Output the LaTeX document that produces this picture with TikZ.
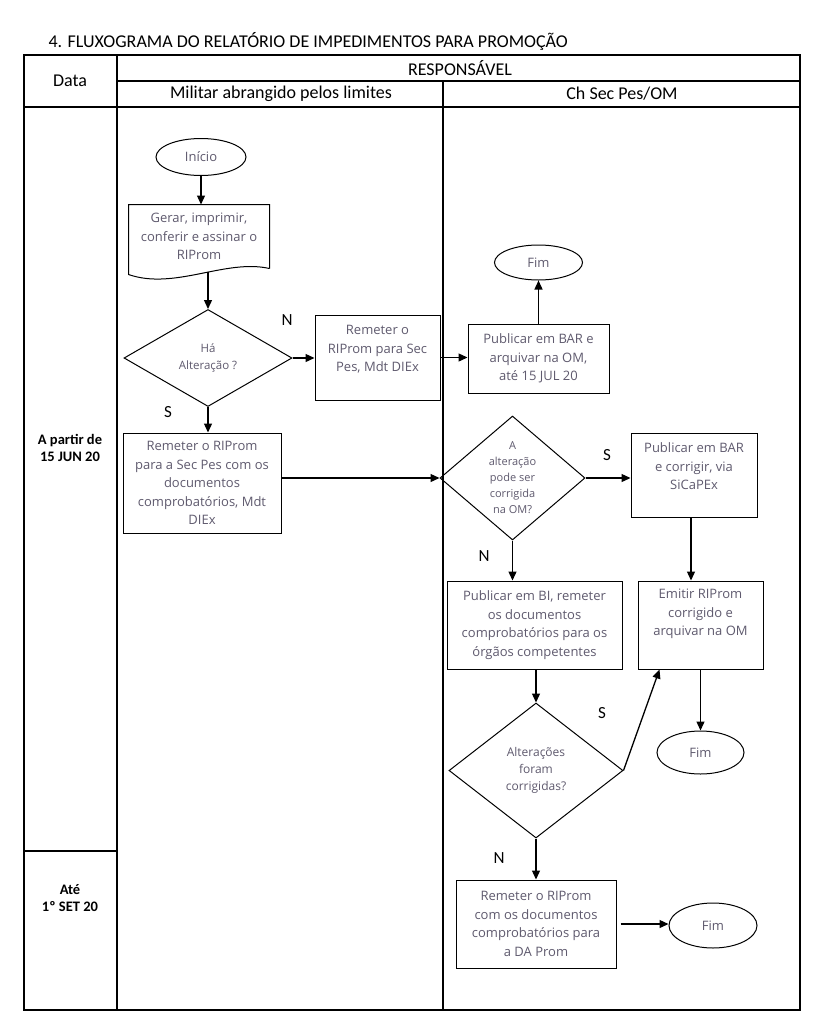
\documentclass[tikz,border=0pt]{standalone}
\usepackage{fontspec}
\setmainfont{Carlito}
\newfontfamily\boxfont{Open Sans}
\usetikzlibrary{positioning,arrows.meta,calc,shapes.geometric}
\definecolor{txtgray}{HTML}{5F5A6E}

\begin{document}
\begin{tikzpicture}[
  x=1pt, y=-1pt,
  font=\fontsize{18}{21}\selectfont,
  grid/.style={line width=1.2pt},
  hdr/.style={font=\fontsize{18}{21}\selectfont},
  datum/.style={align=center, font=\bfseries\fontsize{14.5}{16.5}\selectfont},
  proc/.style={draw, line width=1pt, align=center, inner sep=2pt, text=txtgray,
    font=\boxfont\fontsize{13}{18.5}\selectfont},
  term/.style={draw, line width=1pt, ellipse, inner sep=0pt, text=txtgray,
    font=\boxfont\fontsize{13}{18.5}\selectfont},
  dec/.style={draw, line width=1pt, diamond, align=center, inner sep=0pt, text=txtgray},
  arr/.style={-{Triangle[length=9pt,width=8pt]}, line width=1.3pt},
  yn/.style={font=\fontsize{17}{20}\selectfont}
]
\path[use as bounding box, fill=white] (0,0) rectangle (815,1023);

% table
\node[anchor=base west] (title) at (45,47) {4. FLUXOGRAMA DO RELATÓRIO DE IMPEDIMENTOS PARA PROMOÇÃO};
\draw[grid] (24,55) rectangle (800,1010);
\draw[grid] (117,55) -- (117,1010);
\draw[grid] (117,81) -- (800,81);
\draw[grid] (24,107) -- (800,107);
\draw[grid] (443,81) -- (443,1010);
\draw[grid] (24,851) -- (117,851);

\node[hdr] (data) at (70,81) {Data};
\node[hdr] (resp) at (460,68) {RESPONSÁVEL};
\node[hdr] (militar) at (281,94) {Militar abrangido pelos limites};
\node[hdr] (chsec) at (622,94) {Ch Sec Pes/OM};
\node[datum] (dini) at (70,448) {A partir de\\15 JUN 20};
\node[datum] (dfim) at (70,898) {Até\\1º SET 20};

% nodes
\node[term, minimum width=90pt, minimum height=37pt] (inicio) at (201,157) {Início};
\node[proc, draw=none, minimum width=140pt, minimum height=63pt] (gerar) at (199,236.5)
  {Gerar, imprimir,\\conferir e assinar o\\RIProm};
\draw[line width=1pt] (gerar.south east) -- (gerar.north east) -- (gerar.north west)
  -- ($(gerar.south west)+(0,6)$)
  .. controls ($(gerar.south west)+(46,22)$) and ($(gerar.south east)+(-44,-10)$) .. (gerar.south east);
\coordinate (gerarbot) at (208,272);
\node[dec, minimum width=168pt, minimum height=97pt, font=\boxfont\fontsize{11.5}{17.5}\selectfont]
  (ha) at (208,358) {Há\\Alteração ?};
\node[proc, minimum width=125pt, minimum height=85pt, text depth=18pt] (remsec) at (377.5,357.5)
  {Remeter o\\RIProm para Sec\\Pes, Mdt DIEx};
\node[proc, minimum width=141pt, minimum height=69pt] (pub) at (538.5,358.5)
  {Publicar em BAR e\\arquivar na OM,\\até 15 JUL 20};
\node[term, minimum width=88pt, minimum height=35pt] (fima) at (538.5,262.5) {Fim};
\node[proc, minimum width=158pt, minimum height=100pt] (remdoc) at (202,483)
  {Remeter o RIProm\\para a Sec Pes com os\\documentos\\comprobatórios, Mdt\\DIEx};
\node[dec, minimum width=145pt, minimum height=124pt, aspect=1.17, font=\boxfont\fontsize{11}{16}\selectfont]
  (alt) at (512.5,478) {A\\alteração\\pode ser\\corrigida\\na OM?};
\node[proc, minimum width=126pt, minimum height=84pt, text depth=17pt] (corr) at (694,475)
  {Publicar em BAR\\e corrigir, via\\SiCaPEx};
\node[proc, minimum width=175pt, minimum height=88pt] (bi) at (534.5,625)
  {Publicar em BI, remeter\\os documentos\\comprobatórios para os\\órgãos competentes};
\node[proc, minimum width=125pt, minimum height=88pt, text depth=25pt] (emit) at (700.5,625)
  {Emitir RIProm\\corrigido e\\arquivar na OM};
\node[dec, minimum width=174pt, minimum height=135pt, font=\boxfont\fontsize{12}{17}\selectfont]
  (foram) at (536,770.5) {Alterações\\foram\\corrigidas?};
\node[term, minimum width=87pt, minimum height=43pt] (fimb) at (700.5,752.5) {Fim};
\node[proc, minimum width=160pt, minimum height=88pt] (daprom) at (536,924)
  {Remeter o RIProm\\com os documentos\\comprobatórios para\\a DA Prom};
\node[term, minimum width=88pt, minimum height=45pt] (fimc) at (713,925.5) {Fim};

% labels
\node[yn] (n1) at (287,320) {N};
\node[yn] (s1) at (168,412) {S};
\node[yn] (s2) at (607,455) {S};
\node[yn] (n2) at (484,556) {N};
\node[yn] (s3) at (602,713) {S};
\node[yn] (n3) at (499,858) {N};

% arrows
\draw[arr] (inicio.south) -- (inicio.south |- gerar.north);
\draw[arr] (gerarbot) -- (ha.north);
\draw[arr] (ha.east) -- (ha.east -| remsec.west);
\draw[arr] (remsec.east) -- (remsec.east -| pub.west);
\draw[arr] (pub.north) -- (fima.south);
\draw[arr] (ha.south) -- (ha.south |- remdoc.north);
\draw[arr] (remdoc.east |- alt.west) -- (alt.west);
\draw[arr] (alt.east) -- (alt.east -| corr.west);
\draw[arr] (alt.south) -- (alt.south |- bi.north);
\draw[arr] ([xshift=-3pt]corr.south) -- ([xshift=-3pt]corr.south |- emit.north);
\draw[arr] (foram.north |- bi.south) -- (foram.north);
\draw[arr] (foram.east) -- ([xshift=22pt]emit.south west);
\draw[arr] (emit.south) -- (fimb.north);
\draw[arr] (foram.south) -- (foram.south |- daprom.north);
\draw[arr] ([xshift=4pt]daprom.east) -- (daprom.east -| fimc.west);

\end{tikzpicture}
\end{document}
